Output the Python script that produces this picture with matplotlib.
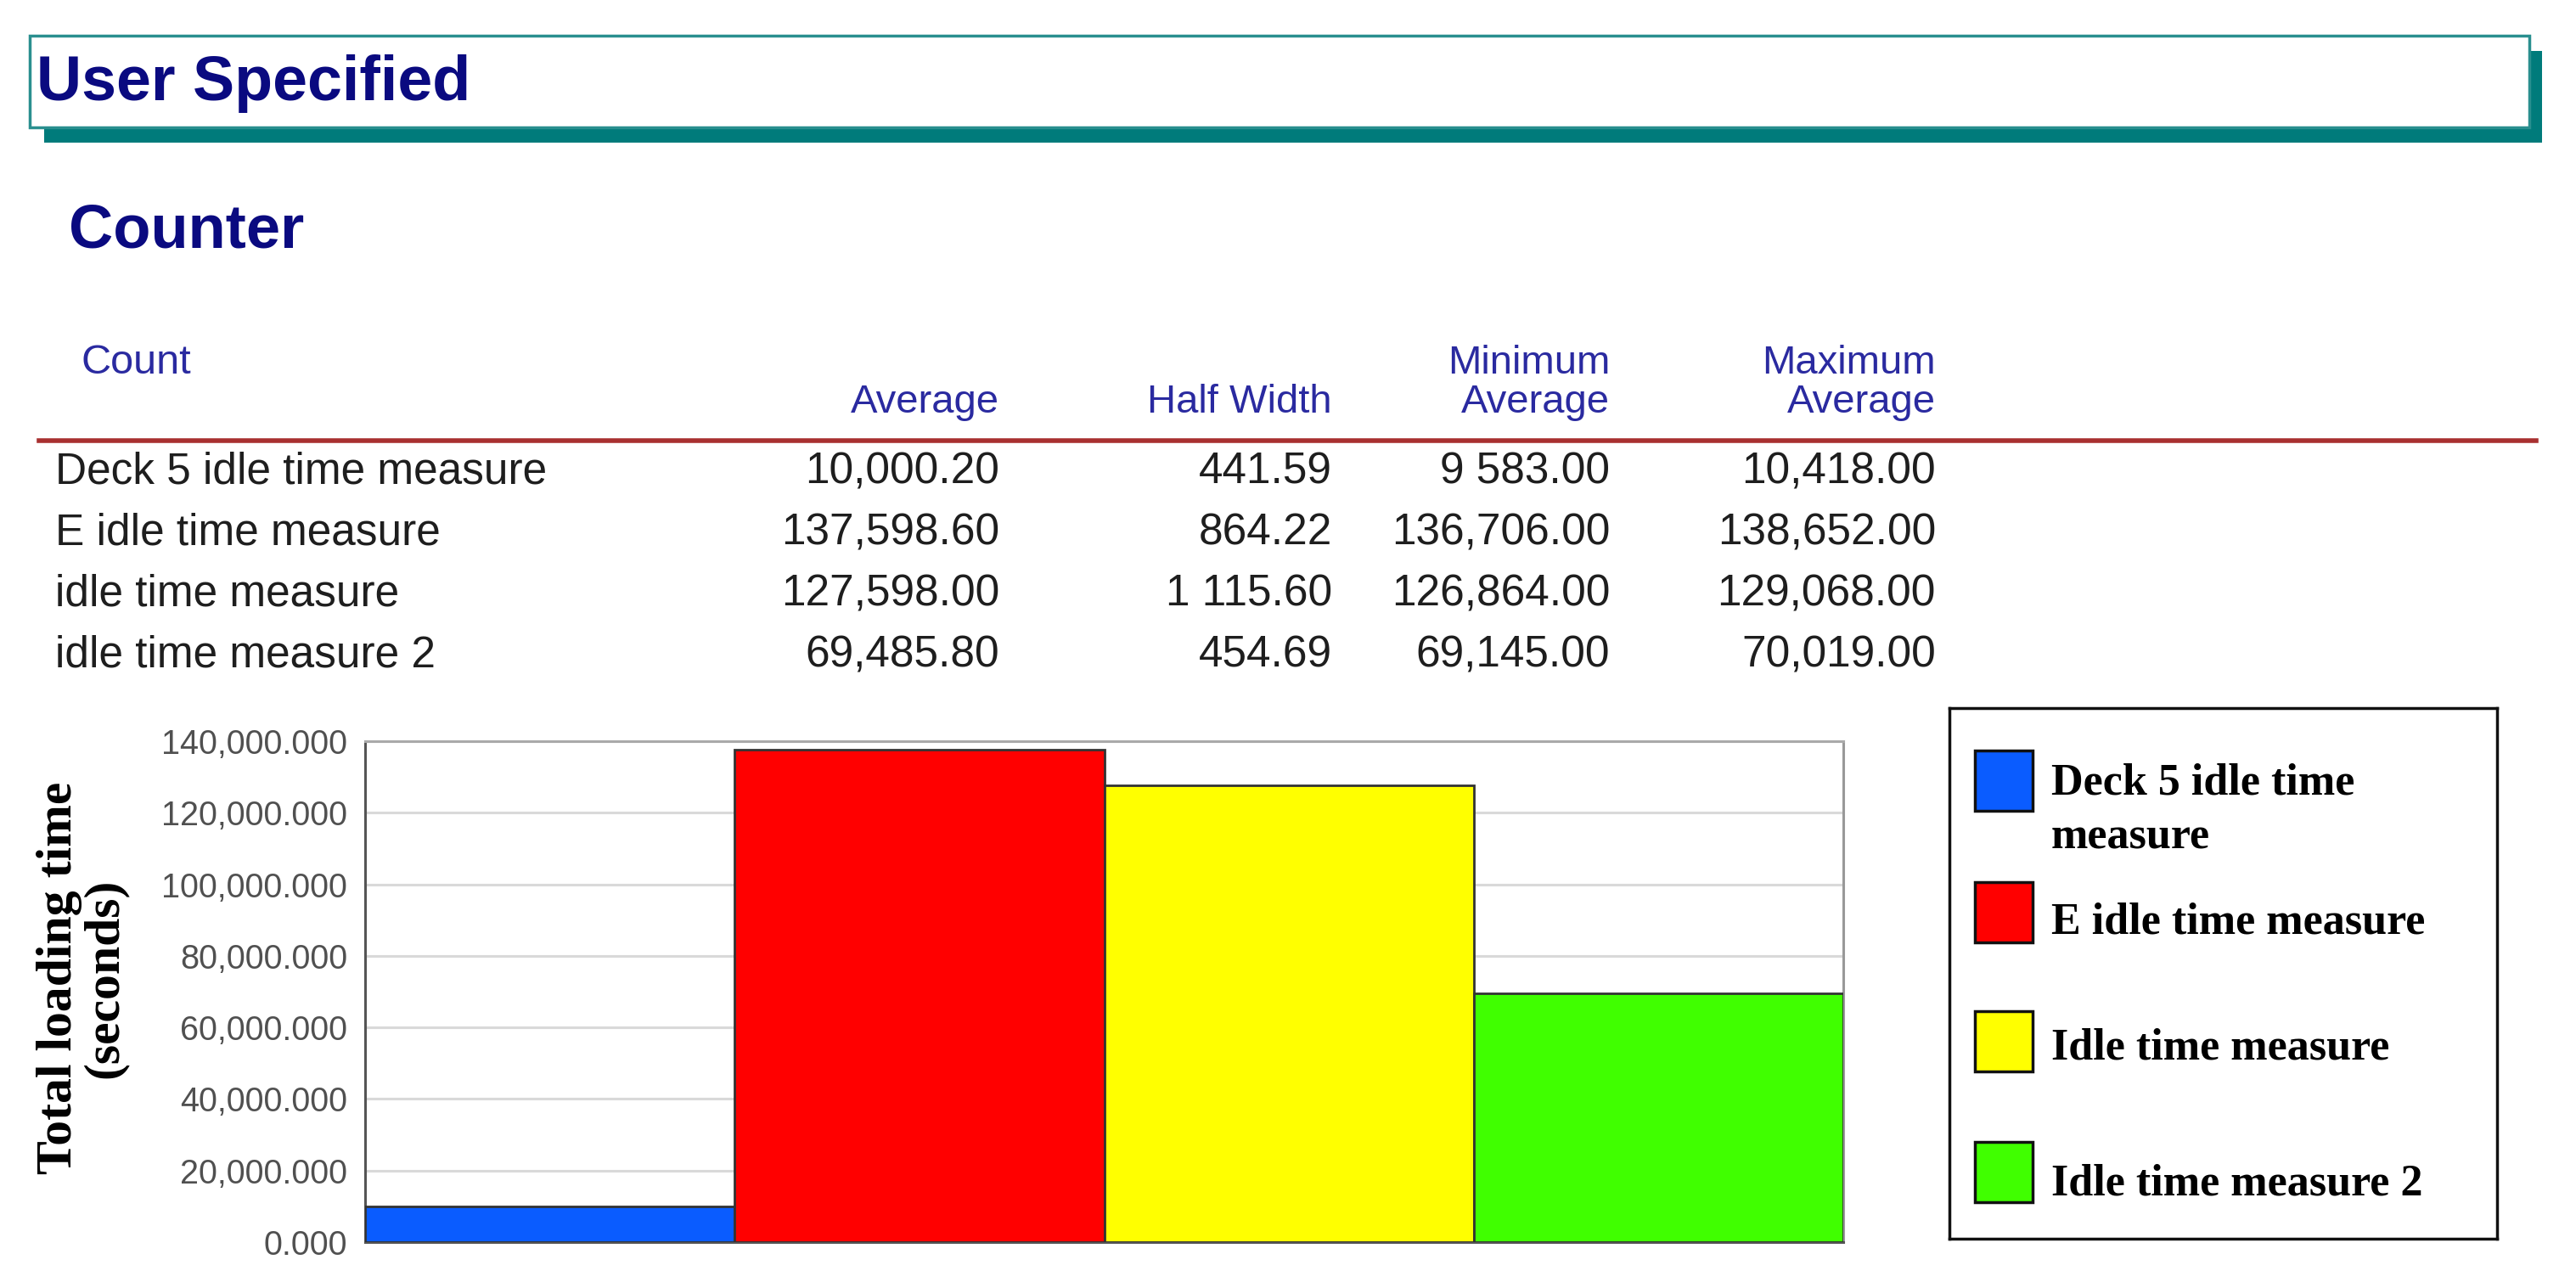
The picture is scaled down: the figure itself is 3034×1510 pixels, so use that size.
import matplotlib
matplotlib.use("Agg")
import matplotlib.pyplot as plt
import matplotlib.ticker as ticker
from matplotlib.patches import Rectangle
from matplotlib.lines import Line2D

# ── Data ───────────────────────────────────────────────────────────────────────

row_labels = ["Deck 5 idle time measure", "E idle time measure",
              "idle time measure", "idle time measure 2"]
avg_text = ["10,000.20", "137,598.60", "127,598.00", "69,485.80"]
half_width_text = ["441.59", "864.22", "1 115.60", "454.69"]
min_avg_text = ["9 583.00", "136,706.00", "126,864.00", "69,145.00"]
max_avg_text = ["10,418.00", "138,652.00", "129,068.00", "70,019.00"]

bar_values = [10000.20, 137598.60, 127598.00, 69485.80]
legend_labels = ["Deck 5 idle time\nmeasure", "E idle time measure",
                 "Idle time measure", "Idle time measure 2"]
bar_colors = ["#0a5cff", "#ff0000", "#ffff00", "#40ff00"]
y_ticks = [0, 20000, 40000, 60000, 80000, 100000, 120000, 140000]

# ── Figure helpers (pixel -> figure fraction) ─────────────────────────────────

W, H = 3034, 1510
fig = plt.figure(figsize=(W / 100, H / 100), dpi=100)
fig.patch.set_facecolor("white")


def fx(px):
    return px / W


def fy(py):
    return 1 - py / H


SANS = "Liberation Sans"
SERIF = "Liberation Serif"
NAVY = "#0a0a80"
HEAD = "#2a2aa0"
TEAL = "#007b7b"

# ── Header band ────────────────────────────────────────────────────────────────

fig.patches.append(Rectangle((fx(52), fy(168)), (2994 - 52) / W, (168 - 60) / H,
                             transform=fig.transFigure, facecolor=TEAL,
                             edgecolor="none", zorder=0))
fig.patches.append(Rectangle((fx(35), fy(150)), (2979 - 35) / W, (150 - 42) / H,
                             transform=fig.transFigure, facecolor="white",
                             edgecolor="#2a8f8f", linewidth=2.5, zorder=1))
fig.text(fx(43), fy(118), "User Specified", fontsize=53, fontweight="bold",
         color=NAVY, family=SANS, va="baseline", zorder=2)

fig.text(fx(81), fy(292), "Counter", fontsize=52, fontweight="bold",
         color=NAVY, family=SANS, va="baseline")

# ── Table ──────────────────────────────────────────────────────────────────────

col_right = [1177, 1569, 1896, 2280]
fig.text(fx(96), fy(440), "Count", fontsize=35, color=HEAD, family=SANS, va="baseline")
headers = [("", "Average"), ("", "Half Width"), ("Minimum", "Average"), ("Maximum", "Average")]
for xr, (top, bottom) in zip(col_right, headers):
    if top:
        fig.text(fx(xr), fy(440), top, fontsize=34, color=HEAD, family=SANS,
                 ha="right", va="baseline")
    fig.text(fx(xr), fy(486), bottom, fontsize=34, color=HEAD, family=SANS,
             ha="right", va="baseline")

fig.lines.append(Line2D([fx(46), fx(2987)], [fy(519), fy(519)],
                        transform=fig.transFigure, color="#a83030", linewidth=4))

row_base = [569, 641, 713, 785]
for i, yb in enumerate(row_base):
    fig.text(fx(65), fy(yb), row_labels[i], fontsize=37, color="#1e1e1e",
             family=SANS, va="baseline")
    for xr, col in zip(col_right, [avg_text, half_width_text, min_avg_text, max_avg_text]):
        fig.text(fx(xr), fy(yb), col[i], fontsize=37, color="#1e1e1e",
                 family=SANS, ha="right", va="baseline")

# ── Bar chart ──────────────────────────────────────────────────────────────────

ax = fig.add_axes([fx(430), fy(1463), (2171 - 430) / W, (1463 - 873) / H])
x = range(len(bar_values))
ax.bar(x, bar_values, width=1.0, color=bar_colors, edgecolor="#333333",
       linewidth=2, zorder=3)
ax.set_xlim(-0.5, len(bar_values) - 0.5)
ax.set_ylim(0, 140000)
ax.set_yticks(y_ticks)
ax.yaxis.set_major_formatter(ticker.FuncFormatter(lambda v, _: f"{v:,.3f}"))
ax.set_xticks([])
ax.tick_params(axis="y", length=0, pad=15, labelsize=28.5, labelcolor="#505050")
for lab in ax.get_yticklabels():
    lab.set_family(SANS)
ax.grid(axis="y", color="#d9d9d9", linewidth=2.2, zorder=0)
ax.spines["left"].set_color("#555555")
ax.spines["bottom"].set_color("#555555")
ax.spines["top"].set_color("#aaaaaa")
ax.spines["right"].set_color("#999999")
for sp in ax.spines.values():
    sp.set_linewidth(2.2)

fig.text(fx(97), fy(1152), "Total loading time\n(seconds)", rotation=90,
         fontsize=43, fontweight="bold", family=SERIF, ha="center", va="center",
         linespacing=1.0)

# ── Legend box ─────────────────────────────────────────────────────────────────

lx0, ly0, lx1, ly1 = 2296, 834, 2941, 1459
lax = fig.add_axes([fx(lx0), fy(ly1), (lx1 - lx0) / W, (ly1 - ly0) / H])
lax.set_xlim(0, lx1 - lx0)
lax.set_ylim(ly1 - ly0, 0)
lax.set_xticks([])
lax.set_yticks([])
for sp in lax.spines.values():
    sp.set_linewidth(2.5)
    sp.set_color("#111111")

patch_top = [50, 205, 357, 511]
text_base = [102, 266, 414, 573]
for top, base, color, label in zip(patch_top, text_base, bar_colors, legend_labels):
    lax.add_patch(Rectangle((30, top), 68, 71, facecolor=color,
                            edgecolor="#111111", linewidth=2.5))
    for j, line in enumerate(label.split("\n")):
        lax.text(120, base + j * 64, line, fontsize=37.5, fontweight="bold",
                 family=SERIF, va="baseline", ha="left")

fig.savefig("out.png", dpi=100, facecolor="white")
